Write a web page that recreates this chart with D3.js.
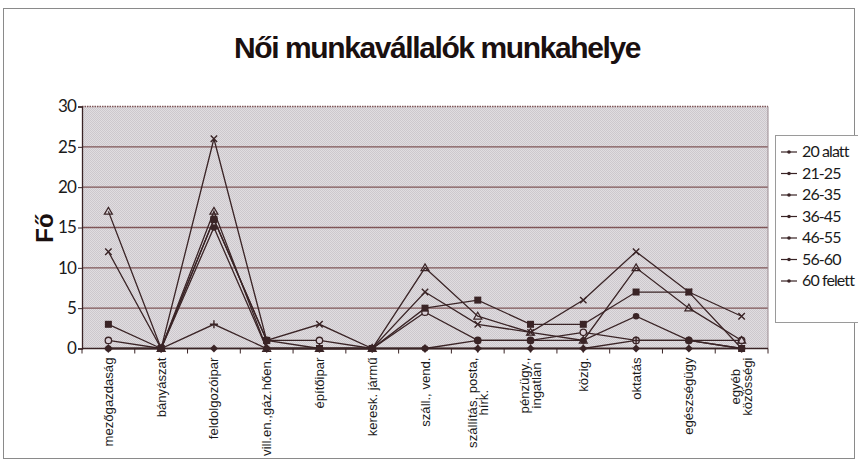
<!DOCTYPE html>
<html><head><meta charset="utf-8">
<script src="https://cdn.jsdelivr.net/npm/d3@7"></script>
<style>
html,body{margin:0;padding:0;background:#fff;}
svg{display:block;}
</style></head>
<body>
<svg id="chart" width="858" height="468"></svg>
<script>
const categories = ["mezőgazdaság","bányászat","feldolgozóipar","vill.en.,gáz.hően.","építőipar","keresk. jármű","száll., vend.","szállítás, posta,|hírk.","pénzügy.,|ingatlan","közig.","oktatás","egészségügy","egyéb|közösségi"];
const seriesNames = ["20 alatt","21-25","26-35","36-45","46-55","56-60","60 felett"];
const s20alatt  = [0,0,0,0,0,0,0,0,0,0,0,0,0];
const s2125     = [1,0,16,1,1,0,4.5,1,1,2,1,1,1];
const s2635     = [17,0,17,0,0,0,10,4,2,1,10,5,1];
const s3645     = [12,0,26,1,3,0,7,3,2,6,12,7,4];
const s4655     = [3,0,16,1,0,0,5,6,3,3,7,7,0];
const s5660     = [0,0,15,0,0,0,0,1,1,1,4,1,0];
const s60felett = [0,0,3,0,0,0,0,0,0,0,1,1,0];
const seriesValues = [s20alatt,s2125,s2635,s3645,s4655,s5660,s60felett];
const yTicks = [0,5,10,15,20,25,30];
const markerTypes = ["diamond","circle","triangle","x","square","dot","plus"];

const svg = d3.select("#chart");
const ink = "#3a2426";
const L = 82, R = 768, T = 106.5, B = 348.5;

// outer frame
svg.append("rect").attr("x",3.5).attr("y",8.5).attr("width",851).attr("height",450)
  .attr("fill","none").attr("stroke","#8a8a8a").attr("stroke-width",1);

// pattern background
const defs = svg.append("defs");
const pat = defs.append("pattern").attr("id","dots").attr("width",2).attr("height",2).attr("patternUnits","userSpaceOnUse");
pat.append("rect").attr("width",2).attr("height",2).attr("fill","#e0dde0");
pat.append("rect").attr("width",1).attr("height",1).attr("fill","#cdc8cd");
pat.append("rect").attr("x",1).attr("y",1).attr("width",1).attr("height",1).attr("fill","#cdc8cd");

const x = d3.scalePoint().domain(categories).range([L,R]).padding(0.5);
const y = d3.scaleLinear().domain([0,30]).range([B,T]);

svg.append("rect").attr("x",L).attr("y",T).attr("width",R-L).attr("height",B-T).attr("fill","url(#dots)");

// gridlines
svg.append("g").selectAll("line").data(yTicks.filter(d=>d>0)).join("line")
  .attr("x1",L).attr("x2",R).attr("y1",d=>y(d)).attr("y2",d=>y(d))
  .attr("stroke","#7e5456").attr("stroke-width",d=>d===30?1.4:1.3)
  .attr("stroke-dasharray",d=>d===30?"1.5,1":null);
svg.append("line").attr("x1",R).attr("x2",R).attr("y1",T).attr("y2",B).attr("stroke","#9a8a90").attr("stroke-width",1);

// y axis
const yAxis = d3.axisLeft(y).tickValues(yTicks).tickSize(4).tickPadding(2);
const gy = svg.append("g").attr("transform",`translate(${L},0)`).call(yAxis);
gy.select(".domain").attr("stroke",ink).attr("stroke-width",1.3);
gy.selectAll(".tick line").attr("stroke",ink);
gy.selectAll("text").attr("font-family","Lato,'Open Sans',sans-serif")
  .attr("font-size",17).attr("letter-spacing",-0.8).attr("fill","#1a1a1a");

// x axis
const step = x.step();
const bounds = d3.range(categories.length+1).map(i=>L+i*step);
const gx = svg.append("g");
gx.append("line").attr("x1",L).attr("x2",R).attr("y1",B).attr("y2",B).attr("stroke",ink).attr("stroke-width",1.5);
gx.selectAll("line.tk").data(bounds).join("line").attr("class","tk")
  .attr("x1",d=>d).attr("x2",d=>d).attr("y1",B).attr("y2",B+5).attr("stroke",ink);

// x labels rotated, multi-line blocks centred on each other, block top at axis
const lab = svg.append("g");
const fs = 12.5, sx = 1.05, lh = 11.5, labTop = B + 9;
categories.forEach(c=>{
  const lines = c.split("|");
  const cx = x(c);
  const n = lines.length;
  const nodes = lines.map(t=>lab.append("text")
      .attr("font-family","'Liberation Sans',Arial,sans-serif").attr("font-size",fs)
      .attr("fill","#1a1a1a").attr("text-anchor","middle").text(t));
  const lens = nodes.map(nd=>nd.node().getComputedTextLength()*sx);
  const maxLen = d3.max(lens);
  const mid = labTop + maxLen/2;
  nodes.forEach((nd,i)=>{
    const off = (i-(n-1)/2)*lh + fs*0.36;
    nd.attr("transform",`translate(${cx+off},${mid}) rotate(-90) scale(${sx},1)`);
  });
});

// lines
const line = d3.line().x((d,i)=>x(categories[i])).y(d=>y(d));
const gl = svg.append("g");
seriesValues.forEach((vals,si)=>{
  gl.append("path").datum(vals).attr("d",line).attr("fill","none").attr("stroke",ink).attr("stroke-width",1.3);
});
function marker(g,type,cx,cy,s){
  s = s||4;
  if(type==="diamond"){ g.append("path").attr("d",`M${cx},${cy-s}L${cx+s},${cy}L${cx},${cy+s}L${cx-s},${cy}Z`).attr("fill",ink); }
  else if(type==="circle"){ g.append("circle").attr("cx",cx).attr("cy",cy).attr("r",3.2).attr("fill","#d8cfd6").attr("stroke",ink).attr("stroke-width",1.3); }
  else if(type==="triangle"){ g.append("path").attr("d",`M${cx},${cy-s}L${cx+s},${cy+s*0.7}L${cx-s},${cy+s*0.7}Z`).attr("fill","none").attr("stroke",ink).attr("stroke-width",1.2); }
  else if(type==="x"){ g.append("path").attr("d",`M${cx-s*0.8},${cy-s*0.8}L${cx+s*0.8},${cy+s*0.8}M${cx-s*0.8},${cy+s*0.8}L${cx+s*0.8},${cy-s*0.8}`).attr("stroke",ink).attr("stroke-width",1.4); }
  else if(type==="square"){ g.append("rect").attr("x",cx-3.5).attr("y",cy-3.5).attr("width",7).attr("height",7).attr("fill",ink); }
  else if(type==="dot"){ g.append("circle").attr("cx",cx).attr("cy",cy).attr("r",3.3).attr("fill",ink); }
  else if(type==="plus"){ g.append("path").attr("d",`M${cx-s},${cy}L${cx+s},${cy}M${cx},${cy-s}L${cx},${cy+s}`).attr("stroke",ink).attr("stroke-width",1.4); }
}
seriesValues.forEach((vals,si)=>{
  vals.forEach((v,i)=>marker(gl,markerTypes[si],x(categories[i]),y(v)));
});

// title
svg.append("text").attr("x",437).attr("y",58).attr("text-anchor","middle")
  .attr("font-family","'Liberation Sans',Arial,sans-serif").attr("font-weight","bold")
  .attr("font-size",30).attr("letter-spacing",-1.4).attr("fill","#1a1010").text("Női munkavállalók munkahelye");

// y label
svg.append("text").attr("transform","translate(53,228) rotate(-90)").attr("text-anchor","middle")
  .attr("font-family","'Liberation Sans',Arial,sans-serif").attr("font-weight","bold")
  .attr("font-size",24).attr("fill","#1a1010").text("Fő");

// legend
const lg = svg.append("g");
lg.append("rect").attr("x",775.5).attr("y",135.5).attr("width",85).attr("height",187)
  .attr("fill","#fff").attr("stroke","#9a9a9a");
const ly = d3.scalePoint().domain(seriesNames).range([152,281]);
seriesNames.forEach((n,i)=>{
  const yy = ly(n);
  lg.append("line").attr("x1",781).attr("x2",797).attr("y1",yy).attr("y2",yy).attr("stroke",ink).attr("stroke-width",1.2);
  lg.append("circle").attr("cx",789).attr("cy",yy).attr("r",1.8).attr("fill",ink);
  lg.append("text").attr("x",802).attr("y",yy+5).attr("font-family","Lato,'Open Sans',sans-serif")
    .attr("font-size",16).attr("letter-spacing",-0.9).attr("fill","#1a1a1a").text(n);
});
</script>
</body></html>
